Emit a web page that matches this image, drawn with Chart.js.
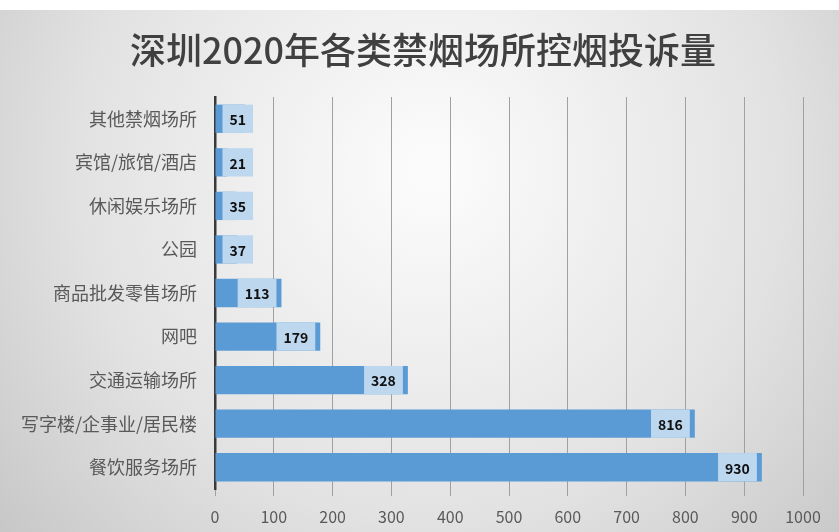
<!DOCTYPE html>
<html>
<head>
<meta charset="utf-8">
<script src="https://cdn.jsdelivr.net/npm/chart.js@4"></script>
<style>
  html, body { margin: 0; padding: 0; background: #fff; }
  #wrap { width: 839px; height: 532px; position: relative; }
</style>
</head>
<body>
<div id="wrap"><canvas id="smokeChart"></canvas></div>
<script>
(() => {
  'use strict'

  const title = '深圳2020年各类禁烟场所控烟投诉量'
  const categories = [
    '其他禁烟场所',
    '宾馆/旅馆/酒店',
    '休闲娱乐场所',
    '公园',
    '商品批发零售场所',
    '网吧',
    '交通运输场所',
    '写字楼/企事业/居民楼',
    '餐饮服务场所'
  ]
  const complaints = [51, 21, 35, 37, 113, 179, 328, 816, 930]
  const xTicks = [0, 100, 200, 300, 400, 500, 600, 700, 800, 900, 1000]

  const cjk = '"Noto Sans CJK SC", "Noto Sans", sans-serif'

  const backdrop = {
    id: 'backdrop',
    beforeDraw (chart) {
      const { ctx, width, height } = chart
      ctx.save()
      ctx.fillStyle = '#ffffff'
      ctx.fillRect(0, 0, width, height)
      const g = ctx.createRadialGradient(430, 170, 20, 430, 170, 620)
      g.addColorStop(0, '#fbfbfb')
      g.addColorStop(0.55, '#e2e2e2')
      g.addColorStop(1, '#c0c0c0')
      ctx.fillStyle = g
      ctx.fillRect(0, 10, width, height - 10)
      ctx.restore()
    },
    afterDraw (chart) {
      // title centred on the whole picture, not on the padded layout box
      const { ctx } = chart
      ctx.save()
      ctx.font = `500 36px ${cjk}`
      ctx.fillStyle = '#404040'
      ctx.textAlign = 'center'
      ctx.textBaseline = 'middle'
      ctx.fillText(title, 423, 50)
      ctx.restore()
    }
  }

  // value boxes sitting at the end of each bar
  const valueBoxes = {
    id: 'valueBoxes',
    afterDatasetsDraw (chart) {
      const { ctx } = chart
      const meta = chart.getDatasetMeta(0)
      ctx.save()
      ctx.font = `bold 14px ${cjk}`
      ctx.textAlign = 'center'
      ctx.textBaseline = 'middle'
      meta.data.forEach((bar, i) => {
        const text = String(complaints[i])
        const w = ctx.measureText(text).width + 14
        const h = bar.height
        const right = Math.max(bar.x - 5, bar.base + 7 + w)
        ctx.fillStyle = '#bdd7ee'
        ctx.fillRect(right - w, bar.y - h / 2, w, h)
        ctx.fillStyle = '#111111'
        ctx.fillText(text, right - w / 2, bar.y + 1)
      })
      ctx.restore()
    }
  }

  // eslint-disable-next-line no-unused-vars
  const smokeChart = new Chart(document.getElementById('smokeChart'), {
    type: 'bar',
    data: {
      labels: categories,
      datasets: [
        {
          data: complaints,
          backgroundColor: '#5b9bd5',
          borderWidth: 0,
          categoryPercentage: 0.65,
          barPercentage: 1
        }
      ]
    },
    options: {
      indexAxis: 'y',
      responsive: true,
      maintainAspectRatio: false,
      animation: false,
      layout: {
        padding: { left: 0, right: 36, top: 97, bottom: 0 }
      },
      plugins: {
        legend: { display: false },
        tooltip: { enabled: false },
        title: { display: false }
      },
      scales: {
        x: {
          min: 0,
          max: 1000,
          afterBuildTicks: scale => {
            scale.ticks = xTicks.map(v => ({ value: v }))
          },
          afterFit: scale => {
            scale.height = 43
          },
          ticks: {
            color: '#595959',
            font: { family: cjk, size: 16 },
            padding: 11,
            callback: value => String(value)
          },
          grid: {
            color: '#a0a0a0',
            lineWidth: 1,
            tickLength: 7,
            drawOnChartArea: true
          },
          border: { display: false }
        },
        y: {
          afterFit: scale => {
            scale.width = 215
          },
          ticks: {
            color: '#595959',
            font: { family: cjk, size: 18 },
            padding: 18
          },
          grid: { display: false, drawTicks: false },
          border: { display: true, color: '#3a3a3a', width: 2.5 }
        }
      }
    },
    plugins: [backdrop, valueBoxes]
  })
})()
</script>
</body>
</html>
